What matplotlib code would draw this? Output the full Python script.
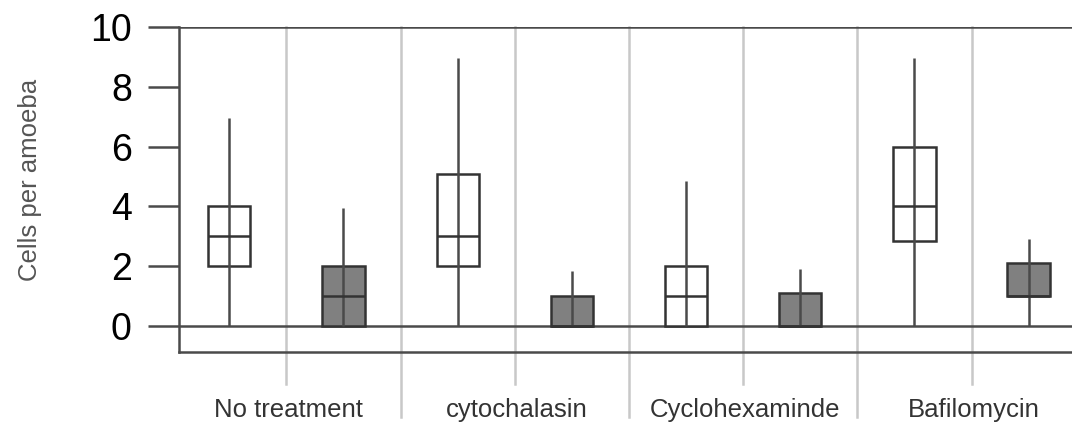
import matplotlib
matplotlib.use("Agg")
import matplotlib.pyplot as plt

plt.rcParams['font.family'] = ['Liberation Sans', 'DejaVu Sans']

groups = ["No treatment", "cytochalasin", "Cyclohexaminde", "Bafilomycin"]

# five-number summaries per box: white box then grey box for each group
lows = [0, 0, 0, 0, 0, 0, 0, 0]
q1s = [2, 0, 2, 0, 0, 0, 2.85, 1.0]
medians = [3, 1, 3, 0, 1, 0, 4, 1.0]
q3s = [4, 2, 5.1, 1.0, 2, 1.1, 6, 2.1]
highs = [6.95, 3.95, 8.95, 1.85, 4.85, 1.9, 8.95, 2.9]
fills = ["white", "#808080"] * 4

fig = plt.figure(figsize=(10.72, 4.33), dpi=100)
ax = fig.add_axes([179 / 1072, (433 - 352) / 433, 1 - 179 / 1072, (352 - 27) / 433])

pos = list(range(len(q1s)))
line_c = "#4a4a4a"
lw = 1.8

# separators between boxes, some reaching further down
for i in range(7):
    bottom = -3.05 if i % 2 == 1 else -1.95
    ax.plot([i + 0.5, i + 0.5], [10, bottom], color="#c8c8c8", lw=1.8,
            clip_on=False, zorder=1)

ax.vlines(pos, lows, highs, color=line_c, lw=lw, zorder=4)
ax.bar(pos, [h - l for l, h in zip(q1s, q3s)], bottom=q1s, width=0.37,
       color=fills, edgecolor="#333333", linewidth=lw, zorder=3)
ax.hlines(medians, [p - 0.185 for p in pos], [p + 0.185 for p in pos],
          color="#333333", lw=lw, zorder=4)

ax.axhline(0, color=line_c, lw=lw, zorder=2)
ax.axhline(10, color=line_c, lw=lw, zorder=2)

ax.set_xlim(-0.44, 7.38)
ax.set_ylim(-0.87, 10)
ax.set_yticks(range(0, 11, 2))
ax.tick_params(axis='y', length=22, width=lw, color=line_c, pad=12,
               labelsize=27)
ax.set_xticks([])
for s in ["top", "right"]:
    ax.spines[s].set_visible(False)
for s in ["left", "bottom"]:
    ax.spines[s].set_color(line_c)
    ax.spines[s].set_linewidth(lw)

for k, g in enumerate(groups):
    ax.text(2 * k + 0.52, -2.82, g, ha="center", va="center", fontsize=18.5,
            color="#333333", clip_on=False)

fig.text(30 / 1072, 1 - 180 / 433, "Cells per amoeba", rotation=90,
         ha="center", va="center", fontsize=18.5, color="#555555")

fig.savefig("out.png", dpi=100)
